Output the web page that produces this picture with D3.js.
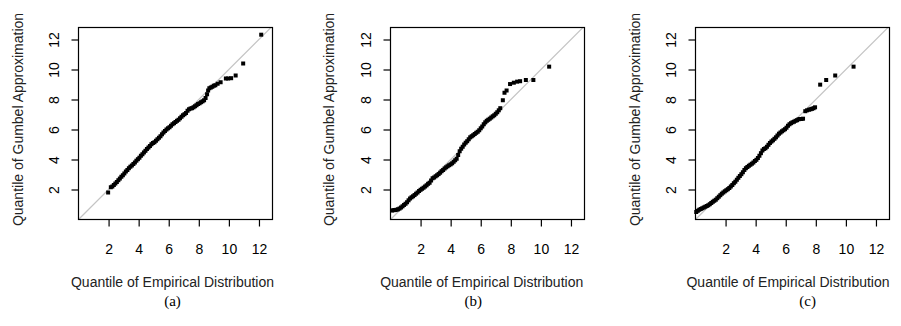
<!DOCTYPE html>
<html lang="en">
<head>
    <meta charset="UTF-8">
    <title>Gumbel QQ plots</title>
    <style>
        body {
            margin: 0;
            background-color: #fff;
        }

        svg {
            display: block;
        }

        .axis text {
            font-family: "Liberation Sans", Arial, Helvetica, sans-serif;
            font-size: 14px;
            fill: #000;
        }

        .axis line {
            stroke: #000;
        }

        .title {
            font-family: "Liberation Sans", Arial, Helvetica, sans-serif;
            font-size: 14px;
            fill: #222;
        }

        .caption {
            font-family: "Liberation Serif", "Times New Roman", serif;
            font-size: 15px;
            fill: #000;
        }
    </style>
</head>
<body>
    <svg id="chart" width="901" height="326"></svg>

    <script src="https://cdnjs.cloudflare.com/ajax/libs/d3/7.8.5/d3.min.js"></script>
    <script>
        // tick labels, same on both axes of every panel
        const ticks = [2, 4, 6, 8, 10, 12];
        const captions = ['(a)', '(b)', '(c)'];

        // panel (a): empirical quantile vs gumbel quantile
        const empA = [1.97, 2.15, 2.25, 2.35, 2.45, 2.55, 2.65, 2.75, 2.85, 2.95,
            3.05, 3.15, 3.25, 3.35, 3.45, 3.55, 3.65, 3.75, 3.85, 3.95,
            4.05, 4.15, 4.25, 4.35, 4.45, 4.55, 4.65, 4.75, 4.85, 4.95,
            5.05, 5.15, 5.25, 5.35, 5.45, 5.55, 5.65, 5.75, 5.85, 5.95,
            6.05, 6.15, 6.25, 6.35, 6.45, 6.55, 6.65, 6.75, 6.85, 6.95,
            7.05, 7.15, 7.25, 7.35, 7.45, 7.55, 7.65, 7.75, 7.85, 7.95,
            8.05, 8.15, 8.25, 8.35, 8.45, 8.55, 8.62, 8.7, 8.8, 8.9,
            9.0, 9.1, 9.25, 9.45, 9.8, 9.95, 10.15, 10.45, 10.95, 12.15];
        const gumA = [1.8, 2.15, 2.2, 2.3, 2.4, 2.5, 2.62, 2.73, 2.85, 2.95,
            3.07, 3.2, 3.3, 3.42, 3.52, 3.6, 3.7, 3.8, 3.92, 4.02,
            4.12, 4.25, 4.35, 4.47, 4.58, 4.7, 4.8, 4.9, 5.02, 5.1,
            5.15, 5.25, 5.35, 5.45, 5.55, 5.68, 5.8, 5.9, 6.0, 6.08,
            6.15, 6.25, 6.35, 6.42, 6.5, 6.58, 6.65, 6.75, 6.85, 6.95,
            7.02, 7.1, 7.25, 7.35, 7.4, 7.42, 7.48, 7.55, 7.62, 7.7,
            7.75, 7.82, 7.88, 7.95, 8.1, 8.35, 8.6, 8.75, 8.8, 8.85,
            8.92, 8.95, 9.05, 9.15, 9.4, 9.4, 9.42, 9.6, 10.4, 12.32];

        // panel (b)
        const empB = [0.1, 0.2, 0.3, 0.4, 0.5, 0.6, 0.7, 0.8, 0.9, 1.0,
            1.1, 1.2, 1.3, 1.4, 1.5, 1.6, 1.7, 1.8, 1.9, 2.0,
            2.1, 2.2, 2.3, 2.4, 2.5, 2.6, 2.7, 2.8, 2.9, 3.0,
            3.1, 3.2, 3.3, 3.4, 3.5, 3.6, 3.7, 3.8, 3.9, 4.0,
            4.1, 4.2, 4.3, 4.4, 4.5, 4.6, 4.7, 4.8, 4.9, 5.0,
            5.1, 5.2, 5.3, 5.4, 5.5, 5.6, 5.7, 5.8, 5.9, 6.0,
            6.1, 6.2, 6.3, 6.4, 6.5, 6.6, 6.7, 6.8, 6.9, 7.0,
            7.1, 7.2, 7.3, 7.47, 7.58, 7.72, 7.95, 8.2, 8.42, 8.62,
            9.0, 9.5, 10.55];
        const gumB = [0.6, 0.62, 0.63, 0.65, 0.68, 0.73, 0.8, 0.88, 0.97, 1.05,
            1.15, 1.28, 1.4, 1.48, 1.55, 1.63, 1.72, 1.8, 1.9, 1.98,
            2.05, 2.12, 2.2, 2.28, 2.38, 2.45, 2.6, 2.75, 2.8, 2.88,
            2.95, 3.03, 3.12, 3.22, 3.3, 3.4, 3.48, 3.55, 3.62, 3.68,
            3.75, 3.85, 3.95, 4.05, 4.3, 4.55, 4.72, 4.85, 5.0, 5.12,
            5.22, 5.35, 5.48, 5.55, 5.62, 5.7, 5.78, 5.85, 5.95, 6.08,
            6.2, 6.35, 6.48, 6.58, 6.65, 6.72, 6.8, 6.88, 6.95, 7.05,
            7.15, 7.28, 7.42, 7.95, 8.45, 8.6, 9.03, 9.12, 9.19, 9.22,
            9.3, 9.3, 10.19];

        // panel (c)
        const empC = [0.05, 0.15, 0.25, 0.35, 0.45, 0.55, 0.65, 0.75, 0.85, 0.95,
            1.05, 1.15, 1.25, 1.35, 1.45, 1.55, 1.65, 1.75, 1.85, 1.95,
            2.05, 2.15, 2.25, 2.35, 2.45, 2.55, 2.65, 2.75, 2.85, 2.95,
            3.05, 3.15, 3.25, 3.35, 3.45, 3.55, 3.65, 3.75, 3.85, 3.95,
            4.05, 4.15, 4.25, 4.35, 4.45, 4.55, 4.65, 4.75, 4.85, 4.95,
            5.05, 5.15, 5.25, 5.35, 5.45, 5.55, 5.65, 5.75, 5.85, 5.95,
            6.05, 6.15, 6.25, 6.35, 6.45, 6.55, 6.65, 6.75, 6.85, 6.95,
            7.05, 7.15, 7.3, 7.42, 7.55, 7.65, 7.75, 7.85, 7.95,
            8.29, 8.69, 9.29, 10.51];
        const gumC = [0.5, 0.58, 0.65, 0.7, 0.75, 0.8, 0.85, 0.9, 0.95, 1.02,
            1.1, 1.18, 1.25, 1.32, 1.42, 1.52, 1.62, 1.72, 1.8, 1.88,
            1.95, 2.02, 2.1, 2.2, 2.3, 2.42, 2.52, 2.65, 2.78, 2.9,
            3.02, 3.15, 3.3, 3.42, 3.5, 3.58, 3.65, 3.72, 3.8, 3.9,
            3.98, 4.1, 4.25, 4.42, 4.6, 4.7, 4.75, 4.85, 4.98, 5.1,
            5.2, 5.28, 5.38, 5.48, 5.6, 5.72, 5.8, 5.88, 5.95, 6.02,
            6.12, 6.25, 6.35, 6.42, 6.48, 6.52, 6.58, 6.62, 6.68, 6.7,
            6.7, 6.72, 7.22, 7.28, 7.32, 7.35, 7.38, 7.42, 7.48,
            8.99, 9.3, 9.6, 10.19];

        const panels = [
            { emp: empA, gum: gumA, left: 78.5, xTitle: 172.5, yTitle: 22.5, cap: 172.5 },
            { emp: empB, gum: gumB, left: 390.5, xTitle: 481.7, yTitle: 333.5, cap: 473.3 },
            { emp: empC, gum: gumC, left: 695.5, xTitle: 788, yTitle: 640, cap: 807.7 }
        ];

        const svg = d3.select('#chart');
        const plotW = 194;
        const plotTop = 27.5, plotBottom = 219.5;
        const PT = 4; // square point size

        panels.forEach(function (p, i) {
            let x = d3.scaleLinear()
                .domain([0, 12.9])
                .range([p.left, p.left + plotW]);

            let y = d3.scaleLinear()
                .domain([0, 12.8])
                .range([plotBottom, plotTop]);

            let g = svg.append('g');

            g.append('clipPath')
                .attr('id', 'clip' + i)
                .append('rect')
                .attr('x', p.left)
                .attr('y', plotTop)
                .attr('width', plotW)
                .attr('height', plotBottom - plotTop);

            // reference line y = x
            g.append('line')
                .attr('clip-path', 'url(#clip' + i + ')')
                .attr('x1', x(0))
                .attr('y1', y(0))
                .attr('x2', x(13))
                .attr('y2', y(13))
                .attr('stroke', '#c4c4c4')
                .attr('stroke-width', 1.2);

            g.selectAll('rect.pt')
                .data(d3.zip(p.emp, p.gum))
                .enter()
                .append('rect')
                .attr('class', 'pt')
                .attr('x', d => x(d[0]) - PT / 2)
                .attr('y', d => y(d[1]) - PT / 2)
                .attr('width', PT)
                .attr('height', PT)
                .attr('fill', '#000');

            // box
            g.append('rect')
                .attr('x', p.left)
                .attr('y', plotTop)
                .attr('width', plotW)
                .attr('height', plotBottom - plotTop)
                .attr('fill', 'none')
                .attr('stroke', '#000')
                .attr('stroke-width', 1.2);

            let ax = g.append('g')
                .attr('class', 'axis')
                .attr('transform', 'translate(0,' + plotBottom + ')')
                .call(d3.axisBottom(x).tickValues(ticks).tickSize(7).tickFormat(d3.format('d')));
            ax.select('.domain').remove();
            ax.selectAll('line').attr('stroke-width', 1.2);
            ax.selectAll('text').attr('dy', null).attr('y', 34.5);

            let ay = g.append('g')
                .attr('class', 'axis')
                .attr('transform', 'translate(' + p.left + ',0)')
                .call(d3.axisLeft(y).tickValues(ticks).tickSize(7).tickFormat(d3.format('d')));
            ay.select('.domain').remove();
            ay.selectAll('line').attr('stroke-width', 1.2);
            ay.selectAll('text')
                .attr('x', null)
                .attr('dy', null)
                .attr('transform', 'translate(-20,0) rotate(-90)')
                .attr('text-anchor', 'middle');

            svg.append('text')
                .attr('class', 'title')
                .attr('x', p.xTitle)
                .attr('y', 287)
                .attr('text-anchor', 'middle')
                .text('Quantile of Empirical Distribution');

            svg.append('text')
                .attr('class', 'title')
                .attr('transform', 'translate(' + p.yTitle + ',119.5) rotate(-90)')
                .attr('text-anchor', 'middle')
                .text('Quantile of Gumbel Approximation');

            svg.append('text')
                .attr('class', 'caption')
                .attr('x', p.cap)
                .attr('y', 306)
                .attr('text-anchor', 'middle')
                .text(captions[i]);
        });
    </script>
</body>
</html>
